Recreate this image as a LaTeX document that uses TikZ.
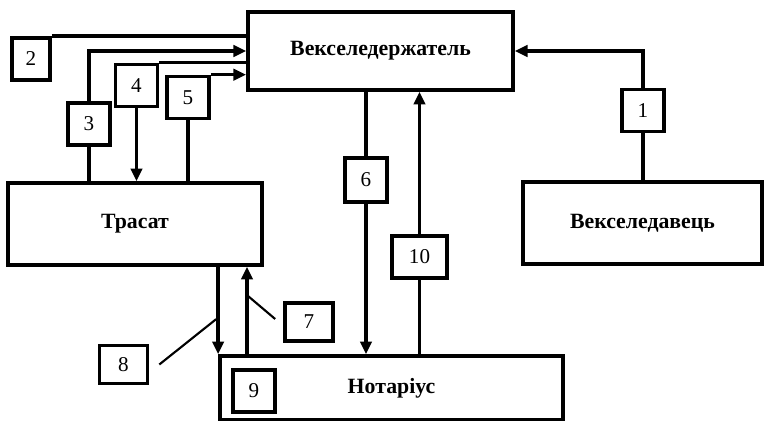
\documentclass[tikz,border=0pt]{standalone}
\usepackage{fontspec}
\setmainfont{Liberation Serif}
\usepackage{tikz}
\usetikzlibrary{positioning,arrows.meta,calc}

\begin{document}
\begin{tikzpicture}[
  x=0.025cm, y=-0.025cm,
  font=\fontsize{15}{17}\selectfont,
  party/.style={draw, line width=2.6pt, inner sep=0pt,
                font=\fontsize{15.5}{18}\selectfont\bfseries},
  num/.style={draw, line width=2.6pt, inner sep=0pt,
              minimum width=1.05cm, minimum height=1.05cm},
  flow/.style={-{Triangle[length=9pt,width=8pt]}, line width=2.4pt},
  link/.style={line width=2.4pt},
  lead/.style={line width=1.5pt}
]
  \useasboundingbox (0,0) rectangle (764,421);

  \node[party, minimum width=6.625cm, minimum height=1.95cm] (holder) at (380.5,51) {Векселедержатель};
  \node[party, minimum width=6.35cm, minimum height=2.05cm] (drawee) at (135,224) {Трасат};
  \node[party, minimum width=5.975cm, minimum height=2.05cm] (drawer) at (642.5,223) {Векселедавець};
  \node[party, minimum width=8.575cm, minimum height=1.6cm] (notary) at (391.5,388) {Нотаріус};

  \node[num] (n1) at (643,110.5) {1};
  \node[num, minimum width=.95cm] (n2) at (31,59) {2};
  \node[num] (n3) at (89,124) {3};
  \node[num] (n4) at (136.5,85.5) {4};
  \node[num] (n5) at (188,97.5) {5};
  \node[num, minimum height=1.1cm] (n6) at (366,180) {6};
  \node[num, minimum width=1.2cm, minimum height=.95cm] (n7) at (309,322) {7};
  \node[num, minimum width=1.2cm, minimum height=.95cm] (n8) at (123.5,364.5) {8};
  \node[num] (n9) at (254,391) {9};
  \node[num, minimum width=1.375cm] (n10) at (419.5,257) {10};

  \draw[link] (n1.south |- drawer.north) -- (n1.south);
  \draw[flow] (n1.north) |- (holder.east);

  \draw[link] (n2.north east) -- (n2.north east -| holder.west);

  \draw[link] (n3.south) -- (n3.south |- drawee.north);
  \draw[flow] (n3.north) |- (holder.west);

  \draw[link] (n4.north east) -- (n4.north east -| holder.west);
  \draw[flow] (n4.south) -- (n4.south |- drawee.north);

  \draw[link] (n5.south) -- (n5.south |- drawee.north);
  \draw[flow] (n5.north east) -- (n5.north east -| holder.west);

  \draw[link] (holder.south -| n6) -- (n6.north);
  \draw[flow] (n6.south) -- (n6.south |- notary.north);

  \draw[link] (notary.north -| n10) -- (n10.south);
  \draw[flow] (n10.north) -- (n10.north |- holder.south);

  \draw[flow] (notary.north west |- drawee.south) -- (notary.north west);
  \coordinate (up7) at (247,356);
  \draw[flow] (up7) -- (up7 |- drawee.south);

  \draw[lead] ($(up7)+(1,-60)$) -- ($(n7.west)+(-8,-3)$);
  \draw[lead] ($(n8.east)+(10,0)$) -- ($(notary.north west)+(-2,-35)$);
\end{tikzpicture}
\end{document}
